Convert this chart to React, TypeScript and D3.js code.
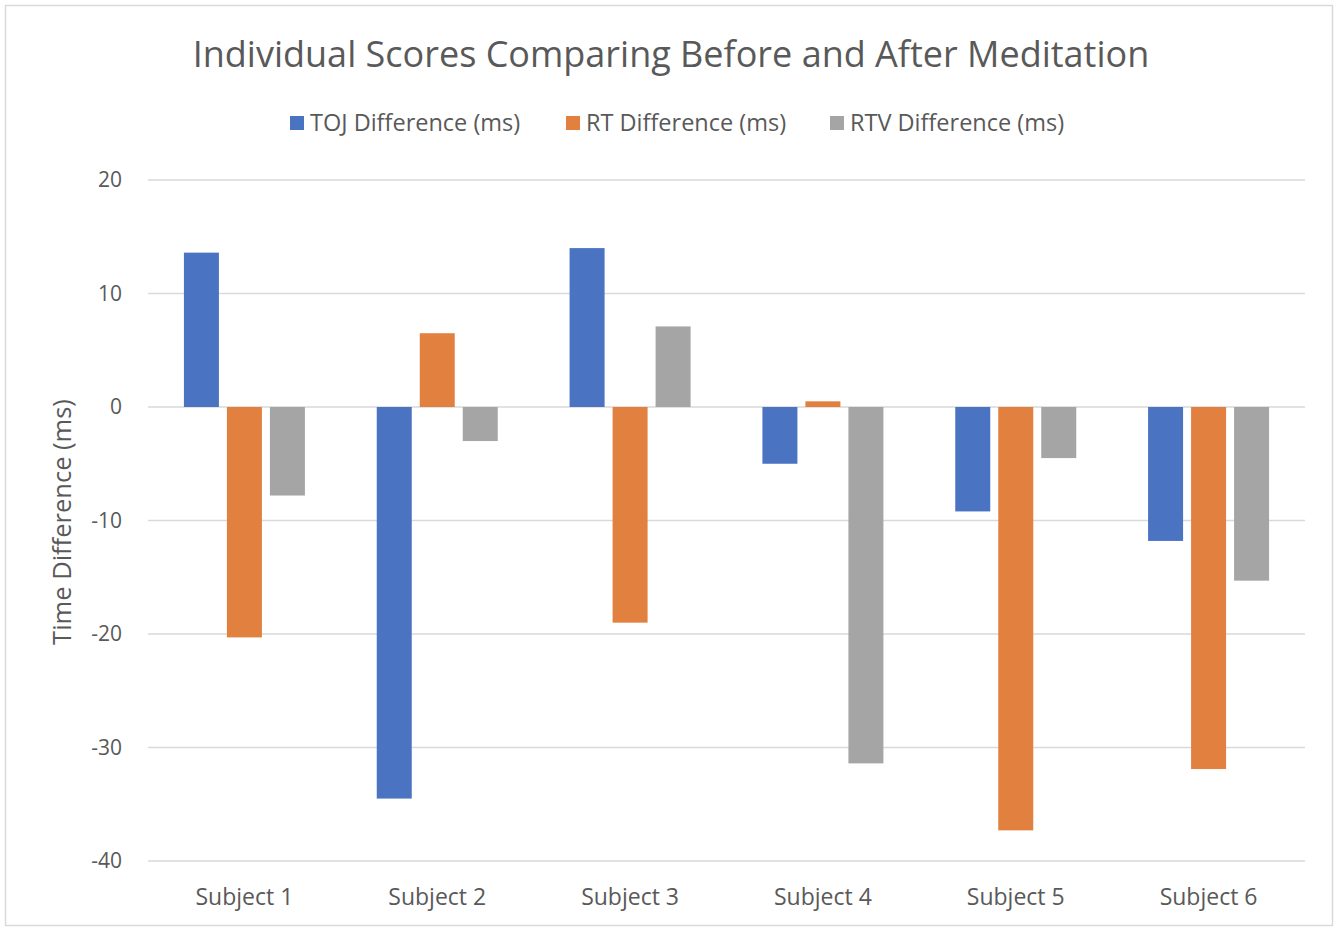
// Grouped bar chart: per-subject before/after meditation differences.
import { useEffect, useRef } from "react";
import * as d3 from "d3";

const SUBJECTS = ["Subject 1", "Subject 2", "Subject 3", "Subject 4", "Subject 5", "Subject 6"];
const SERIES = ["TOJ Difference (ms)", "RT Difference (ms)", "RTV Difference (ms)"];
const TOJ = [13.6, -34.5, 14.0, -5.0, -9.2, -11.8];
const RT = [-20.3, 6.5, -19.0, 0.5, -37.3, -31.9];
const RTV = [-7.8, -3.0, 7.1, -31.4, -4.5, -15.3];
const Y_TICKS = [20, 10, 0, -10, -20, -30, -40];
const COLORS = ["#4A73C2", "#E2803F", "#A5A5A5"];

const W = 1338;
const H = 931;
const FONT = "'Open Sans', Lato, sans-serif";
const INK = "#595959";

export default function App() {
  const ref = useRef<SVGSVGElement>(null);

  useEffect(() => {
    const svg = d3.select(ref.current!);
    svg.selectAll("*").remove();

    const margin = { top: 180, right: 33, bottom: 70, left: 148 };
    const innerW = W - margin.left - margin.right;
    const y = d3.scaleLinear().domain([-40, 20]).range([861, 180]);
    const x0 = d3.scaleBand<string>().domain(SUBJECTS).range([margin.left, W - margin.right]).paddingInner(0).paddingOuter(0);
    const groupW = 121;
    const x1 = d3.scaleBand<string>().domain(SERIES).range([0, groupW]).paddingInner(0.186).paddingOuter(0);
    const values = [TOJ, RT, RTV];

    // outer border
    svg.append("rect")
      .attr("x", 5.5).attr("y", 5.5).attr("width", W - 11).attr("height", H - 11)
      .attr("fill", "#fff").attr("stroke", "#D9D9D9").attr("stroke-width", 1.5);

    // gridlines
    svg.append("g").selectAll("line").data(Y_TICKS).join("line")
      .attr("x1", margin.left).attr("x2", margin.left + innerW)
      .attr("y1", (d) => y(d)).attr("y2", (d) => y(d))
      .attr("stroke", "#D9D9D9").attr("stroke-width", 1.5);

    // y tick labels
    svg.append("g").selectAll("text").data(Y_TICKS).join("text")
      .attr("x", 122).attr("y", (d) => y(d)).attr("dy", "0.35em")
      .attr("text-anchor", "end").attr("font-family", FONT).attr("font-size", 21)
      .attr("fill", INK).text((d) => String(d));

    // bars
    SERIES.forEach((s, si) => {
      svg.append("g").selectAll("rect").data(values[si]).join("rect")
        .attr("x", (_, i) => x0(SUBJECTS[i])! + (x0.bandwidth() - groupW) / 2 + x1(s)!)
        .attr("width", x1.bandwidth())
        .attr("y", (d) => y(Math.max(0, d)))
        .attr("height", (d) => Math.abs(y(d) - y(0)))
        .attr("fill", COLORS[si]);
    });

    // x labels
    svg.append("g").selectAll("text").data(SUBJECTS).join("text")
      .attr("x", (d) => x0(d)! + x0.bandwidth() / 2).attr("y", 897).attr("dy", "0.35em")
      .attr("text-anchor", "middle").attr("font-family", FONT).attr("font-size", 23)
      .attr("fill", INK).text((d) => d);

    // y axis title
    svg.append("text")
      .attr("transform", `translate(62,522) rotate(-90)`)
      .attr("dy", "0.35em").attr("text-anchor", "middle")
      .attr("font-family", FONT).attr("font-size", 25.5).attr("fill", INK)
      .text("Time Difference (ms)");

    // title
    svg.append("text")
      .attr("x", 671).attr("y", 54).attr("dy", "0.35em").attr("text-anchor", "middle")
      .attr("font-family", FONT).attr("font-size", 36).attr("fill", INK)
      .text("Individual Scores Comparing Before and After Meditation");

    // legend
    const legendX = [290, 566, 830];
    const leg = svg.append("g").selectAll("g").data(SERIES).join("g")
      .attr("transform", (_, i) => `translate(${legendX[i]},123)`);
    leg.append("rect").attr("x", 0).attr("y", -7).attr("width", 14).attr("height", 14)
      .attr("fill", (_, i) => COLORS[i]);
    leg.append("text").attr("x", 20).attr("dy", "0.35em")
      .attr("font-family", FONT).attr("font-size", 23.5).attr("fill", INK)
      .text((d) => d);
  }, []);

  return (
    <>
      <style>{`body{margin:0}`}</style>
      <svg ref={ref} width={W} height={H} style={{ display: "block" }} />
    </>
  );
}
